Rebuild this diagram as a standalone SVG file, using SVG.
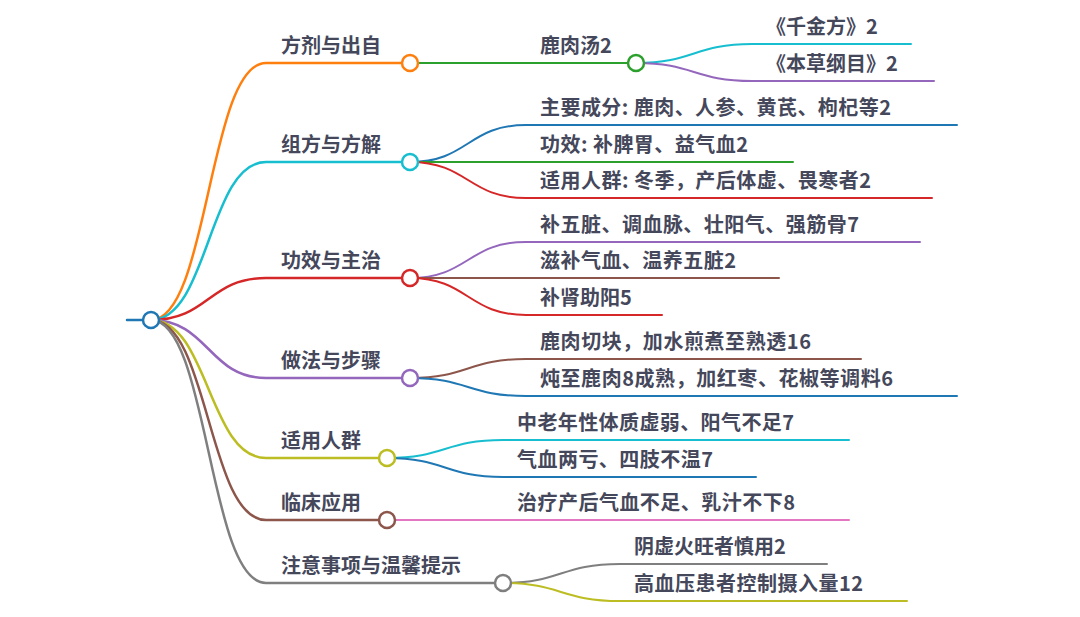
<svg xmlns="http://www.w3.org/2000/svg" width="1080" height="617" viewBox="0 0 1080 617">
<style>
text{font-family:"Noto Sans CJK SC","Noto Sans",sans-serif;font-weight:700;font-size:20px;fill:#45475b}
.l1{fill:none;stroke-width:2.5;stroke-linecap:round}
.l2{fill:none;stroke-width:2;stroke-linecap:round}
circle{fill:#fff;stroke-width:2.5}
.c0{stroke:#1f77b4}.c1{stroke:#ff7f0e}.c2{stroke:#2ca02c}.c3{stroke:#d62728}.c4{stroke:#9467bd}.c5{stroke:#8c564b}.c6{stroke:#e377c2}.c7{stroke:#7f7f7f}.c8{stroke:#bcbd22}.c9{stroke:#17becf}
</style>
<rect width="1080" height="617" fill="#fff"/>
<g id="connectors">
<path class="l1 c0" d="M127,320 H151"/>
<path class="l1 c1" d="M151,320 C208.5,320 208.5,63 266,63 H410"/>
<path class="l1 c9" d="M151,320 C208.5,320 208.5,162 266,162 H410"/>
<path class="l1 c3" d="M151,320 C208.5,320 208.5,278 266,278 H410"/>
<path class="l1 c4" d="M151,320 C208.5,320 208.5,378 266,378 H410"/>
<path class="l1 c8" d="M151,320 C208.5,320 208.5,458 266,458 H387"/>
<path class="l1 c5" d="M151,320 C208.5,320 208.5,520 266,520 H387"/>
<path class="l1 c7" d="M151,320 C208.5,320 208.5,583 266,583 H503"/>
<path class="l2 c2" d="M410,63 H636"/>
<path class="l2 c9" d="M636,63 C694,63 694,44 752,44 H911"/>
<path class="l2 c4" d="M636,63 C694,63 694,81 752,81 H934"/>
<path class="l2 c0" d="M410,162 C468,162 468,125 526,125 H957"/>
<path class="l2 c2" d="M410,162 H793"/>
<path class="l2 c3" d="M410,162 C468,162 468,198 526,198 H932"/>
<path class="l2 c4" d="M410,278 C468,278 468,242 526,242 H920"/>
<path class="l2 c5" d="M410,278 H779"/>
<path class="l2 c3" d="M410,278 C468,278 468,315 526,315 H662"/>
<path class="l2 c5" d="M410,378 C468,378 468,359 526,359 H861"/>
<path class="l2 c0" d="M410,378 C468,378 468,396 526,396 H957"/>
<path class="l2 c9" d="M387,458 C445,458 445,440 503,440 H849"/>
<path class="l2 c0" d="M387,458 C445,458 445,477 503,477 H756"/>
<path class="l2 c6" d="M387,520 H849"/>
<path class="l2 c7" d="M503,583 C561,583 561,564 620,564 H827"/>
<path class="l2 c8" d="M503,583 C561,583 561,601 620,601 H907"/>
</g>
<g id="root"><circle class="c0" cx="151" cy="320" r="8"/></g>
<g id="n1"><text x="281" y="53">方剂与出自</text><circle class="c1" cx="410" cy="63" r="8"/></g>
<g id="n1-1"><text x="540" y="53">鹿肉汤2</text><circle class="c2" cx="636" cy="63" r="8"/></g>
<g id="n1-1-1"><text x="766" y="34">《千金方》2</text></g>
<g id="n1-1-2"><text x="766" y="71">《本草纲目》2</text></g>
<g id="n2"><text x="281" y="152">组方与方解</text><circle class="c9" cx="410" cy="162" r="8"/></g>
<g id="n2-1"><text x="540" y="115" textLength="351">主要成分: 鹿肉、人参、黄芪、枸杞等2</text></g>
<g id="n2-2"><text x="540" y="152" textLength="208">功效: 补脾胃、益气血2</text></g>
<g id="n2-3"><text x="540" y="188" textLength="331">适用人群: 冬季，产后体虚、畏寒者2</text></g>
<g id="n3"><text x="281" y="268">功效与主治</text><circle class="c3" cx="410" cy="278" r="8"/></g>
<g id="n3-1"><text x="540" y="232" textLength="319">补五脏、调血脉、壮阳气、强筋骨7</text></g>
<g id="n3-2"><text x="540" y="268" textLength="196">滋补气血、温养五脏2</text></g>
<g id="n3-3"><text x="540" y="305">补肾助阳5</text></g>
<g id="n4"><text x="281" y="368">做法与步骤</text><circle class="c4" cx="410" cy="378" r="8"/></g>
<g id="n4-1"><text x="540" y="349" textLength="271">鹿肉切块，加水煎煮至熟透16</text></g>
<g id="n4-2"><text x="540" y="386" textLength="353">炖至鹿肉8成熟，加红枣、花椒等调料6</text></g>
<g id="n5"><text x="281" y="448">适用人群</text><circle class="c8" cx="387" cy="458" r="8"/></g>
<g id="n5-1"><text x="517" y="430" textLength="277">中老年性体质虚弱、阳气不足7</text></g>
<g id="n5-2"><text x="517" y="467" textLength="196">气血两亏、四肢不温7</text></g>
<g id="n6"><text x="281" y="510">临床应用</text><circle class="c5" cx="387" cy="520" r="8"/></g>
<g id="n6-1"><text x="517" y="510" textLength="278">治疗产后气血不足、乳汁不下8</text></g>
<g id="n7"><text x="281" y="573">注意事项与温馨提示</text><circle class="c7" cx="503" cy="583" r="8"/></g>
<g id="n7-1"><text x="634" y="554">阴虚火旺者慎用2</text></g>
<g id="n7-2"><text x="634" y="591" textLength="229">高血压患者控制摄入量12</text></g>
</svg>
